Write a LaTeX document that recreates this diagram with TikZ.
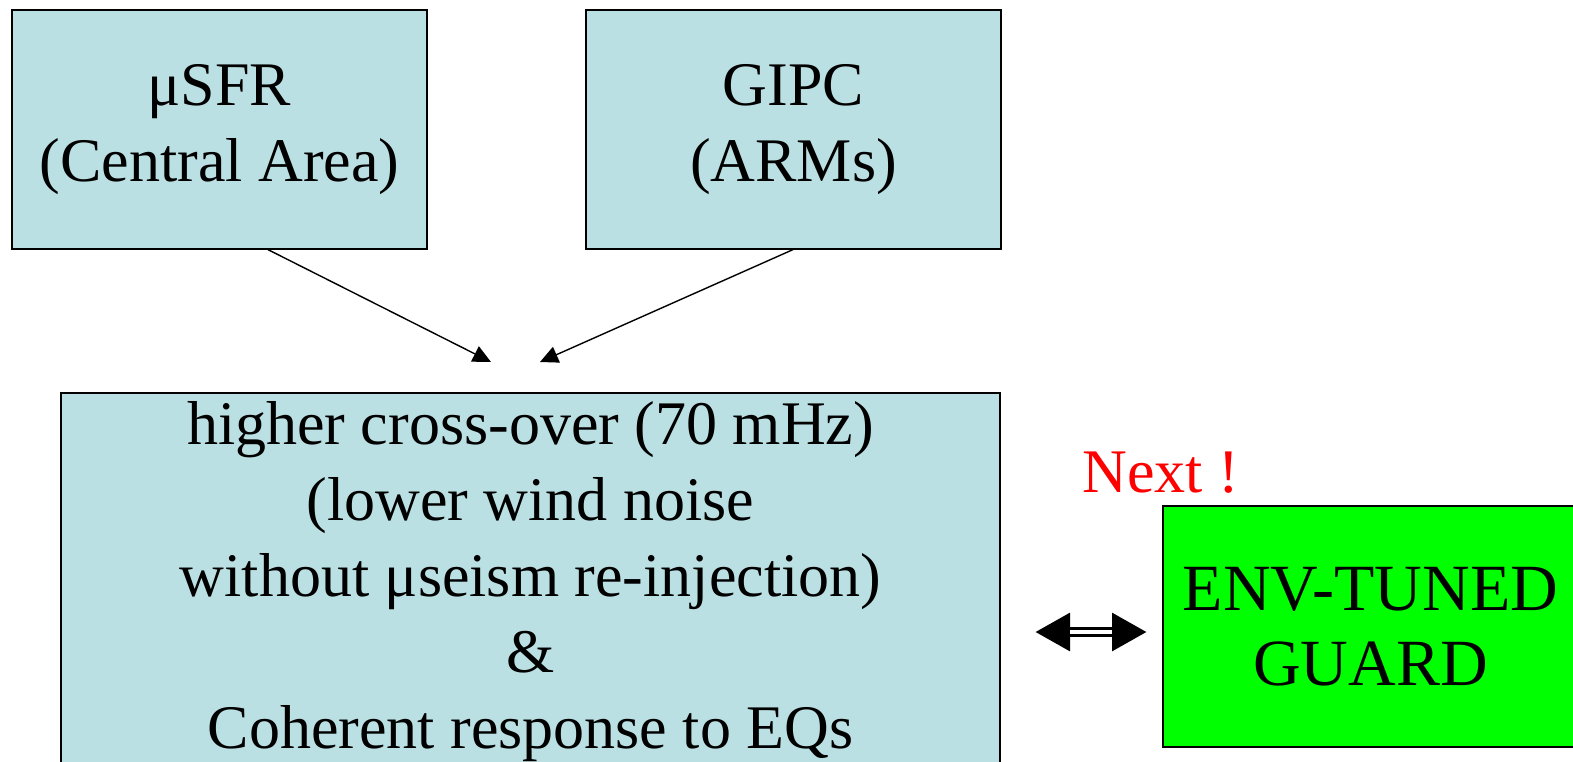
\documentclass[tikz,border=0pt]{standalone}
\usepackage{fontspec}
\setmainfont{Liberation Serif}
\usetikzlibrary{arrows.meta}
\definecolor{boxblue}{RGB}{187,224,227}
\definecolor{nextred}{RGB}{255,0,0}
\definecolor{guardgreen}{RGB}{0,255,0}
\begin{document}
\begin{tikzpicture}[x=1pt,y=-1pt,
  box/.style={draw=black, line width=1.2pt, fill=boxblue, inner sep=0pt, align=center, font=\fontsize{62}{76}\selectfont},
  thinarrow/.style={draw=black, line width=1.4pt, -{Triangle[length=18pt,width=17pt]}},
  bigarrow/.style={draw=black, line width=10pt, {Triangle[length=35pt,width=36pt]}-{Triangle[length=35pt,width=36pt]}}]
\useasboundingbox (0,0) rectangle (1573,761);
\node[box, minimum width=415pt, minimum height=239pt] (a) at (219.5,129.5) {μSFR\\(Central Area)};
\node[box, minimum width=415pt, minimum height=239pt] (b) at (793.5,129.5) {GIPC\\(ARMs)};
\node[box, minimum width=939pt, minimum height=378pt] (c) at (530.5,582) {higher cross-over (70 mHz)\\(lower wind noise\\without μseism re-injection)\\\&\\Coherent response to EQs};
\node[box, fill=guardgreen, minimum width=415pt, minimum height=241pt, font=\fontsize{66}{75}\selectfont] (d) at (1370.5,626.5) {ENV-TUNED\\GUARD};
\node[text=nextred, font=\fontsize{62}{76}\selectfont, inner sep=0pt] (next) at (1161,473) {Next !};
\coordinate (t1) at (491,362);
\coordinate (t2) at (540,362);
\draw[thinarrow] ([xshift=48.5pt]a.south) -- (t1);
\draw[thinarrow] ([xshift=-0.5pt]b.south) -- (t2);
\coordinate (dl) at (1035,632);
\coordinate (dr) at (1147,632);
\draw[bigarrow] (dl) -- (dr);
\draw[white, line width=3.5pt] (1070,632) -- (1112,632);
\end{tikzpicture}
\end{document}
